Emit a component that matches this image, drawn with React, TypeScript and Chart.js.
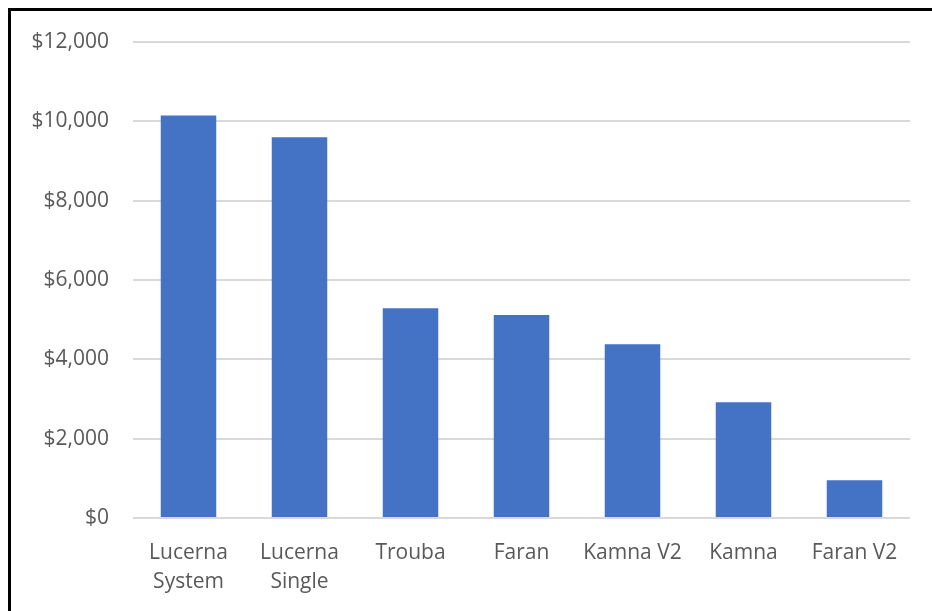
import React, { useEffect, useRef } from "react";
import { Chart, registerables } from "chart.js";

Chart.register(...registerables);

const categories: (string | string[])[] = [
  ["Lucerna", "System"],
  ["Lucerna", "Single"],
  "Trouba",
  "Faran",
  "Kamna V2",
  "Kamna",
  "Faran V2",
];
const costs: number[] = [10150, 9600, 5290, 5120, 4380, 2920, 950];
const yMin = 0;
const yMax = 12000;
const yStep = 2000;

const FONT = "'Open Sans', 'Noto Sans', sans-serif";
const TEXT = "#595959";

export default function App() {
  const ref = useRef<HTMLCanvasElement | null>(null);

  useEffect(() => {
    if (!ref.current) return;
    const chart = new Chart(ref.current, {
      type: "bar",
      data: {
        labels: categories,
        datasets: [
          {
            data: costs,
            backgroundColor: "#4472C4",
            borderWidth: 0,
            barPercentage: 0.5,
            categoryPercentage: 1,
          },
        ],
      },
      options: {
        responsive: false,
        animation: false,
        devicePixelRatio: 1,
        layout: { padding: { top: 31, right: 22, left: 0, bottom: 0 } },
        plugins: {
          legend: { display: false },
          tooltip: { enabled: false },
        },
        scales: {
          x: {
            grid: { display: false, drawTicks: false },
            border: { display: false },
            ticks: {
              color: TEXT,
              font: { family: FONT, size: 21, lineHeight: 1.4 },
              padding: 20,
              maxRotation: 0,
              autoSkip: false,
            },
            afterFit: (scale: any) => {
              scale.height = 93;
            },
          },
          y: {
            min: yMin,
            max: yMax,
            grid: {
              color: "#d9d9d9",
              lineWidth: 2,
              drawTicks: true,
              tickLength: 24,
              tickColor: "rgba(0,0,0,0)",
            },
            border: { display: false },
            ticks: {
              stepSize: yStep,
              color: TEXT,
              font: { family: FONT, size: 21 },
              padding: 0,
              callback: (v: any) => "$" + Number(v).toLocaleString("en-US"),
            },
            afterFit: (scale: any) => {
              scale.width = 122;
            },
          },
        },
      },
    });
    return () => chart.destroy();
  }, []);

  return (
    <div
      style={{
        position: "absolute",
        left: 8,
        top: 8,
        width: 924,
        height: 603,
        borderTop: "3px solid #000",
        borderLeft: "3px solid #000",
        background: "#fff",
        boxSizing: "border-box",
      }}
    >
      <canvas ref={ref} width={921} height={600} style={{ display: "block" }} />
    </div>
  );
}
